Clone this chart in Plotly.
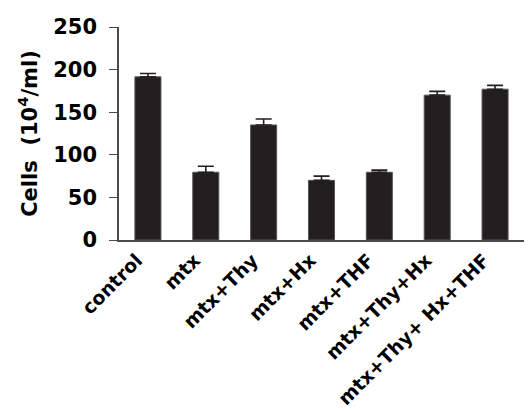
import plotly.graph_objects as go

categories = ["control", "mtx", "mtx+Thy", "mtx+Hx", "mtx+THF",
              "mtx+Thy+Hx", "mtx+Thy+ Hx+THF"]
cells = [191.5, 79.5, 135.0, 70.0, 79.5, 170.0, 177.0]
sem = [4.0, 7.0, 7.0, 5.0, 2.5, 4.5, 4.5]
y_ticks = [0, 50, 100, 150, 200, 250]

FONT = "DejaVu Sans, sans-serif"
BAR = "#231f20"
AXIS = "#4a4a4a"

fig = go.Figure(go.Bar(
    x=categories,
    y=cells,
    width=0.45,
    marker=dict(color=BAR, line=dict(color="#555555", width=1)),
    error_y=dict(type="data", array=sem, arrayminus=[0] * len(sem),
                 symmetric=False, color=BAR, thickness=1.6, width=8),
))

fig.update_layout(
    width=530, height=412,
    margin=dict(l=119, r=6, t=27, b=172),
    paper_bgcolor="white", plot_bgcolor="white",
    showlegend=False,
    font=dict(family=FONT, size=21, color="black"),
    xaxis=dict(
        range=[-0.5, 6.5], tickangle=-45, showline=True, linecolor=AXIS,
        linewidth=1.5, ticks="", showgrid=False, zeroline=False,
        automargin=False, ticklabelshift=-11,
        tickfont=dict(family=FONT, size=19, color="black", weight="bold"),
    ),
    yaxis=dict(
        range=[0, 250], tickvals=y_ticks, showline=True, linecolor=AXIS,
        linewidth=1.5, ticks="outside", ticklen=8, tickcolor=AXIS,
        ticklabelstandoff=8, automargin=False,
        showgrid=False, zeroline=False,
        tickfont=dict(family=FONT, size=21, color="black", weight="bold"),
        title=dict(text="<b>Cells  (10<sup>4</sup>/ml)</b>",
                   font=dict(family=FONT, size=21, color="black"), standoff=10),
    ),
)

fig.write_html("out.html")
